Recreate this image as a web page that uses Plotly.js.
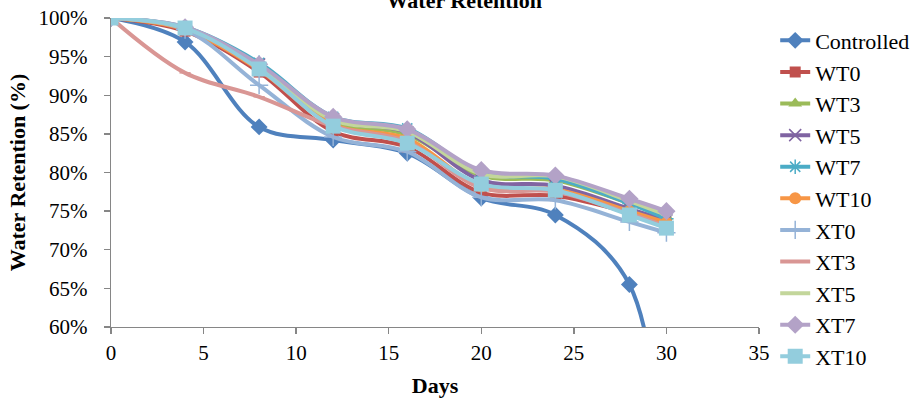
<!DOCTYPE html>
<html>
<head>
<meta charset="utf-8">
<script src="https://cdn.plot.ly/plotly-3.0.1.min.js"></script>
<style>html,body{margin:0;padding:0;background:#fff;}#chart{width:923px;height:406px;}</style>
</head>
<body>
<div id="chart"></div>
<script>
const days = [0, 4, 8, 12, 16, 20, 24, 28, 30];
const controlled = [100, 96.9, 85.9, 84.2, 82.5, 76.7, 74.5, 65.5, 30];
const wt0  = [100, 98.3, 93.0, 85.3, 83.3, 77.4, 77.0, 74.8, 73.3];
const wt3  = [100, 98.6, 93.6, 86.6, 84.9, 79.6, 79.0, 76.0, 74.3];
const wt5  = [100, 98.7, 94.0, 86.9, 85.2, 79.0, 78.3, 75.3, 73.8];
const wt7  = [100, 98.8, 94.2, 87.2, 85.7, 80.0, 79.2, 76.0, 74.0];
const wt10 = [100, 98.5, 93.3, 86.2, 84.4, 78.2, 77.8, 75.0, 73.5];
const xt0  = [100, 98.5, 91.3, 84.6, 82.7, 76.8, 76.4, 73.6, 72.2];
const xt3  = [100, 92.9, 89.8, 86.0, 84.0, 78.0, 77.5, 74.7, 73.0];
const xt5  = [100, 98.7, 93.8, 86.8, 85.3, 79.8, 79.5, 76.3, 74.5];
const xt7  = [100, 98.8, 94.0, 87.2, 85.6, 80.3, 79.6, 76.6, 75.0];
const xt10 = [100, 98.7, 93.4, 86.0, 83.8, 78.5, 77.7, 74.5, 72.8];
const seriesNames = ['Controlled','WT0','WT3','WT5','WT7','WT10','XT0','XT3','XT5','XT7','XT10'];
const seriesValues = [controlled, wt0, wt3, wt5, wt7, wt10, xt0, xt3, xt5, xt7, xt10];
const colors = ['#4F81BD','#C0504D','#9BBB59','#8064A2','#4BACC6','#F79646','#95B3D7','#D99694','#C3D69B','#B3A2C7','#93CDDD'];
const symbols = ['diamond','square','triangle-up','x-thin-open','asterisk-open','circle','cross-thin-open','line-ew-open','line-ew-open','diamond','square'];
const sizes = [13, 11, 12, 12, 12, 12, 13, 8, 8, 14, 15];

const traces = seriesNames.map((n, i) => ({
  x: days, y: seriesValues[i].map(v => v / 100), name: n, type: 'scatter', mode: 'lines+markers',
  line: {color: colors[i], width: 4, shape: 'spline', smoothing: 1},
  marker: {symbol: symbols[i], size: sizes[i], color: colors[i], line: {color: colors[i], width: (symbols[i].indexOf('open') >= 0 ? 1.5 : 0)}}
}));

const fam = 'Liberation Serif, Times New Roman, serif';
const layout = {
  width: 923, height: 406,
  margin: {l: 111, r: 164, t: 18, b: 79, pad: 0, autoexpand: false},
  paper_bgcolor: '#fff', plot_bgcolor: '#fff',
  font: {family: fam, size: 21, color: '#000'},
  showlegend: true,
  title: {text: '<b>Water Retention</b>', font: {family: fam, size: 22, color: '#000'}, x: 0.503, xanchor: 'center', yref: 'container', y: 1.0, yanchor: 'middle'},
  xaxis: {
    range: [0, 35], dtick: 5, tick0: 0, showgrid: false, zeroline: false,
    showline: true, linecolor: '#868686', linewidth: 1.3,
    ticks: 'outside', ticklen: 6, tickcolor: '#868686', tickwidth: 1.3,
    tickfont: {family: fam, size: 21, color: '#000'},
    title: {text: '<b>Days</b>', font: {family: fam, size: 22, color: '#000'}, standoff: 14}
  },
  yaxis: {
    range: [0.6, 1.0], dtick: 0.05, tick0: 0.6, tickformat: '.0%', showgrid: false, zeroline: false,
    showline: true, linecolor: '#868686', linewidth: 1.3,
    ticks: 'outside', ticklen: 6, tickcolor: '#868686', tickwidth: 1.3,
    ticklabelstandoff: 12,
    tickfont: {family: fam, size: 21, color: '#000'},
    title: {text: '<b>Water Retention (%)</b>', font: {family: fam, size: 22, color: '#000'}, standoff: 6}
  },
  legend: {x: 1.025, xanchor: 'left', y: 0.995, yanchor: 'top', maxheight: 400, font: {family: fam, size: 22, color: '#000'}, bgcolor: 'rgba(0,0,0,0)'}
};
Plotly.newPlot('chart', traces, layout, {displayModeBar: false, staticPlot: true});
</script>
</body>
</html>
